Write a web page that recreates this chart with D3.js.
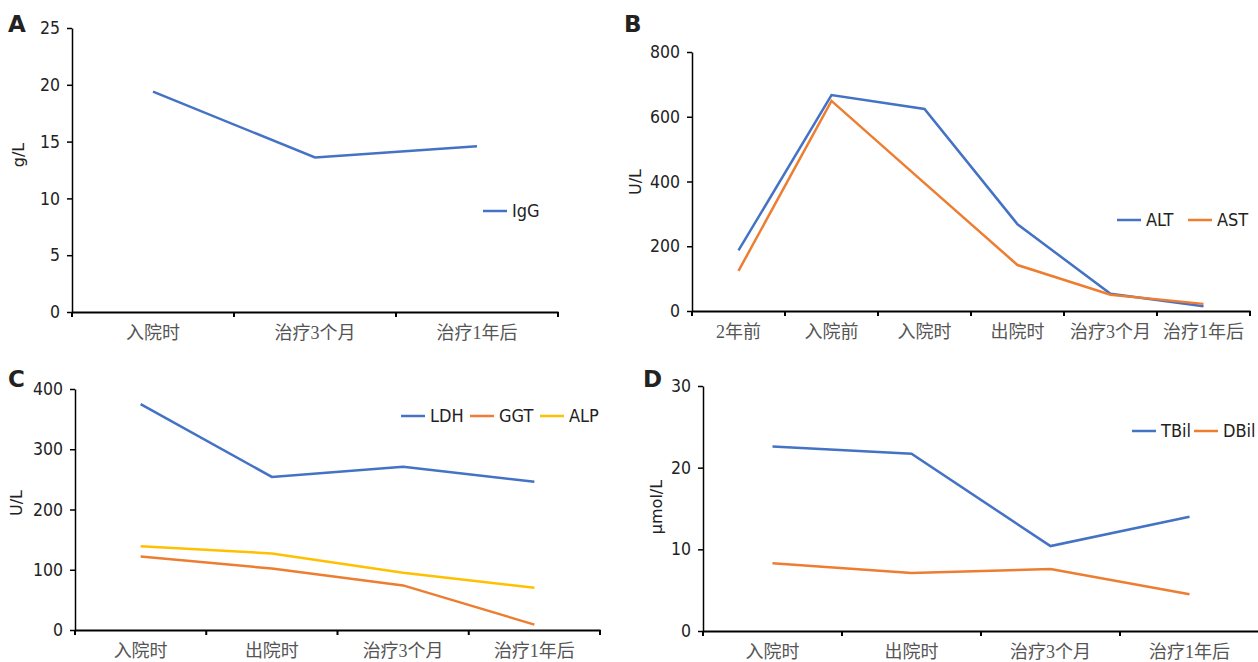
<!DOCTYPE html>
<html>
<head>
<meta charset="utf-8">
<script src="https://cdn.jsdelivr.net/npm/d3@7"></script>
<style>
  body { margin: 0; background: #fff; }
  svg { display: block; }
</style>
</head>
<body>
<div id="chart-container"></div>
<script>
// Chart data
var catsA = ["入院时", "治疗3个月", "治疗1年后"];
var igg = [19.4, 13.6, 14.6];
var ticksA = [0, 5, 10, 15, 20, 25];

var catsB = ["2年前", "入院前", "入院时", "出院时", "治疗3个月", "治疗1年后"];
var alt = [187, 667, 624, 268, 53, 15];
var ast = [124, 649, 395, 142, 50, 22];
var ticksB = [0, 200, 400, 600, 800];

var catsC = ["入院时", "出院时", "治疗3个月", "治疗1年后"];
var ldh = [375, 254, 271, 246];
var ggt = [122, 102, 74, 9];
var alp = [139, 127, 95, 70];
var ticksC = [0, 100, 200, 300, 400];

var catsD = ["入院时", "出院时", "治疗3个月", "治疗1年后"];
var tbil = [22.6, 21.7, 10.4, 14.0];
var dbil = [8.3, 7.1, 7.6, 4.5];
var ticksD = [0, 10, 20, 30];

var BLUE = "#4472C4", ORANGE = "#ED7D31", YELLOW = "#FFC000";
var NUM_FONT = "'DejaVu Sans Condensed', 'DejaVu Sans', sans-serif";
var CAT_FONT = "'Liberation Serif', 'Noto Sans CJK SC', serif";

var svg = d3.select("#chart-container")
    .append("svg")
    .attr("width", 1258)
    .attr("height", 662);

function drawPanel(p) {
    var x = d3.scaleBand().domain(p.cats).range([p.left, p.right]);
    var y = d3.scaleLinear().domain([0, d3.max(p.ticks)]).range([p.bottom, p.top]);
    var g = svg.append("g");

    // Y axis
    var yAxis = g.append("g")
        .attr("transform", "translate(" + p.left + ",0)")
        .call(d3.axisLeft(y).tickValues(p.ticks).tickSize(5).tickPadding(7).tickSizeOuter(0));
    yAxis.select(".domain").attr("stroke", "#000").attr("stroke-width", 1.5);
    yAxis.selectAll(".tick line").attr("stroke", "#000").attr("stroke-width", 1.5);
    yAxis.selectAll(".tick text")
        .attr("font-family", NUM_FONT)
        .attr("font-size", 17.5)
        .attr("fill", "#222");

    // X axis (labels centred, tick marks on band edges)
    var xAxis = g.append("g")
        .attr("transform", "translate(0," + p.bottom + ")")
        .call(d3.axisBottom(x).tickSize(0).tickPadding(14).tickSizeOuter(0));
    xAxis.select(".domain").attr("stroke", "#000").attr("stroke-width", 2);
    xAxis.selectAll(".tick text")
        .attr("font-family", CAT_FONT)
        .attr("font-size", 18)
        .attr("fill", "#555");
    var edges = p.cats.map(function(c) { return x(c); }).concat([p.right]);
    xAxis.selectAll(".edge")
        .data(edges)
        .enter().append("line")
        .attr("x1", function(d) { return d; })
        .attr("x2", function(d) { return d; })
        .attr("y1", 0)
        .attr("y2", 5)
        .attr("stroke", "#000")
        .attr("stroke-width", 2);

    // Lines
    var line = d3.line()
        .x(function(d, i) { return x(p.cats[i]) + x.bandwidth() / 2; })
        .y(function(d) { return y(d); });
    p.series.forEach(function(s) {
        g.append("path")
            .datum(s.values)
            .attr("fill", "none")
            .attr("stroke", s.color)
            .attr("stroke-width", 2.5)
            .attr("d", line);
    });

    // Legend
    p.series.forEach(function(s, i) {
        var lx = p.legend[i];
        g.append("line")
            .attr("x1", lx).attr("x2", lx + 24)
            .attr("y1", p.legendY).attr("y2", p.legendY)
            .attr("stroke", s.color)
            .attr("stroke-width", 2.5);
        g.append("text")
            .attr("x", lx + 29)
            .attr("y", p.legendY)
            .attr("dy", "0.35em")
            .attr("font-family", NUM_FONT)
            .attr("font-size", 18)
            .attr("fill", "#222")
            .text(s.name);
    });

    // Y label
    g.append("text")
        .attr("transform", "translate(" + p.ylabX + "," + p.ylabY + ") rotate(-90)")
        .attr("text-anchor", "middle")
        .attr("font-family", "'DejaVu Sans', sans-serif")
        .attr("font-size", 16)
        .attr("fill", "#222")
        .text(p.ylab);

    // Panel letter
    g.append("text")
        .attr("x", p.letterX)
        .attr("y", p.letterY)
        .attr("font-family", "'DejaVu Sans', sans-serif")
        .attr("font-weight", "bold")
        .attr("font-size", 23)
        .attr("fill", "#222")
        .text(p.letter);
}

drawPanel({
    cats: catsA, ticks: ticksA,
    left: 72, right: 558, top: 28, bottom: 312,
    series: [{name: "IgG", values: igg, color: BLUE}],
    legend: [483], legendY: 211,
    ylab: "g/L", ylabX: 24, ylabY: 155,
    letter: "A", letterX: 8, letterY: 32
});

drawPanel({
    cats: catsB, ticks: ticksB,
    left: 692, right: 1250, top: 52, bottom: 311,
    series: [{name: "ALT", values: alt, color: BLUE}, {name: "AST", values: ast, color: ORANGE}],
    legend: [1117, 1188], legendY: 220,
    ylab: "U/L", ylabX: 641, ylabY: 182,
    letter: "B", letterX: 624, letterY: 32
});

drawPanel({
    cats: catsC, ticks: ticksC,
    left: 75, right: 600, top: 389, bottom: 630,
    series: [{name: "LDH", values: ldh, color: BLUE}, {name: "GGT", values: ggt, color: ORANGE}, {name: "ALP", values: alp, color: YELLOW}],
    legend: [401, 470, 540], legendY: 416,
    ylab: "U/L", ylabX: 22, ylabY: 503,
    letter: "C", letterX: 8, letterY: 387
});

drawPanel({
    cats: catsD, ticks: ticksD,
    left: 703, right: 1259, top: 386, bottom: 631,
    series: [{name: "TBil", values: tbil, color: BLUE}, {name: "DBil", values: dbil, color: ORANGE}],
    legend: [1132, 1194], legendY: 431,
    ylab: "μmol/L", ylabX: 662, ylabY: 507,
    letter: "D", letterX: 643, letterY: 387
});
</script>
</body>
</html>
